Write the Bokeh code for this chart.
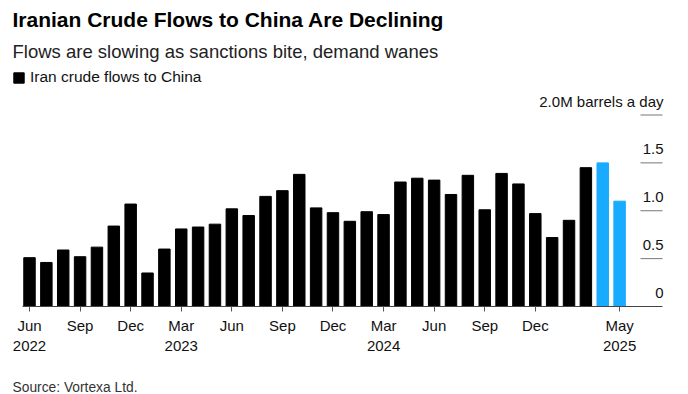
from bokeh.plotting import figure
from bokeh.models import Range1d, FixedTicker, Legend, LegendItem, ColumnDataSource, Title
from bokeh.core.properties import value
from bokeh.embed import file_html
from bokeh.resources import INLINE

# ---------------- data ----------------
months = [
    "Jun 2022", "Jul 2022", "Aug 2022", "Sep 2022", "Oct 2022", "Nov 2022", "Dec 2022",
    "Jan 2023", "Feb 2023", "Mar 2023", "Apr 2023", "May 2023", "Jun 2023",
    "Jul 2023", "Aug 2023", "Sep 2023", "Oct 2023", "Nov 2023", "Dec 2023",
    "Jan 2024", "Feb 2024", "Mar 2024", "Apr 2024", "May 2024", "Jun 2024",
    "Jul 2024", "Aug 2024", "Sep 2024", "Oct 2024", "Nov 2024", "Dec 2024",
    "Jan 2025", "Feb 2025", "Mar 2025", "Apr 2025", "May 2025",
]
flows = [
    0.51, 0.46, 0.59, 0.52, 0.62, 0.84, 1.07,
    0.35, 0.60, 0.81, 0.83, 0.86, 1.02,
    0.95, 1.15, 1.21, 1.38, 1.03, 0.98,
    0.89, 0.99, 0.96, 1.30, 1.34, 1.32,
    1.17, 1.37, 1.01, 1.39, 1.28, 0.97,
    0.72, 0.90, 1.45, 1.50, 1.10,
]
highlight = ["Apr 2025", "May 2025"]

tick_months = ["Jun 2022", "Sep 2022", "Dec 2022", "Mar 2023", "Jun 2023", "Sep 2023",
               "Dec 2023", "Mar 2024", "Jun 2024", "Sep 2024", "Dec 2024", "May 2025"]
tick_texts = ["Jun\n2022", "Sep", "Dec", "Mar\n2023", "Jun", "Sep",
              "Dec", "Mar\n2024", "Jun", "Sep", "Dec", "May\n2025"]

y_ticks = [0, 0.5, 1.0, 1.5, 2.0]
y_tick_texts = ["0", "0.5", "1.0", "1.5", "2.0M barrels a day"]

title_text = "Iranian Crude Flows to China Are Declining"
subtitle_text = "Flows are slowing as sanctions bite, demand wanes"
legend_text = "Iran crude flows to China"
source_text = "Source: Vortexa Ltd."

# ---------------- styling / geometry ----------------
FONT = "Liberation Sans"
BLACK = "#000000"
BLUE = "#18ABFF"
W, H = 688, 394
PITCH = 16.86          # px per month
BAR0 = 29              # x of first bar centre
FR_L, FR_R = 12, 665   # frame left / right
AX_L, AX_R = 22, 662   # axis line extent
GRID_L = 640           # short grid line start
FR_T, FR_B = 68, 307   # frame top / bottom
PX_PER_UNIT = 96.15

def xd(px):
    return (px - BAR0) / PITCH

def yd(py):
    return (FR_B - py) / PX_PER_UNIT

idx = list(range(len(months)))
colors = [BLUE if m in highlight else BLACK for m in months]
src = ColumnDataSource(dict(x=idx, flow=flows, color=colors, month=months))

p = figure(width=W, height=H, output_backend="svg", toolbar_location=None,
           title=None,
           x_range=Range1d(xd(FR_L), xd(FR_R)),
           y_range=Range1d(0, yd(FR_T)),
           y_axis_location=None,
           min_border_left=FR_L, min_border_right=W - FR_R,
           min_border_top=FR_T, min_border_bottom=H - FR_B)
p.outline_line_color = None
p.grid.visible = False
p.background_fill_color = "white"
p.border_fill_color = "white"

r = p.vbar(x="x", top="flow", width=0.68, color="color", source=src)

# short grid lines at the right
gy = [t for t in y_ticks if t > 0]
p.segment(x0=[xd(GRID_L)] * len(gy), x1=[xd(AX_R)] * len(gy), y0=gy, y1=gy,
          line_color="#777777", line_width=1)

# y labels above the grid lines
p.text(x=[xd(AX_R)] * len(y_ticks), y=y_ticks, text=y_tick_texts,
       text_align="right", text_baseline="alphabetic", y_offset=-14, x_offset=1,
       text_font=value(FONT), text_font_size="15px", text_color="#111111")

# x axis
ax = p.xaxis[0]
ax.ticker = FixedTicker(ticks=[months.index(m) for m in tick_months])
ax.major_label_overrides = {months.index(m): t for m, t in zip(tick_months, tick_texts)}
ax.bounds = (xd(AX_L), xd(AX_R))
ax.axis_line_color = "#444444"
ax.axis_line_width = 1
ax.major_tick_out = 5
ax.major_tick_in = 0
ax.major_tick_line_color = "#555555"
ax.minor_tick_line_color = None
ax.major_label_text_font = FONT
ax.major_label_text_font_size = "15px"
ax.major_label_text_color = "#111111"
ax.major_label_standoff = 5

# legend
legend = Legend(items=[LegendItem(label=legend_text, renderers=[r], index=0)],
                location="top_left", margin=0, padding=0, spacing=0,
                glyph_width=13, glyph_height=13, label_standoff=5, label_height=13,
                label_text_font=FONT, label_text_font_size="15.5px",
                label_text_color="#111111",
                border_line_color=None, background_fill_alpha=0)
p.add_layout(legend)

# header texts
p.add_layout(Title(text=subtitle_text, text_font=FONT, text_font_size="18.5px",
                   text_font_style="normal", text_color="#222222",
                   align="left", standoff=14), "above")
p.add_layout(Title(text=title_text, text_font=FONT, text_font_size="21px",
                   text_font_style="bold", text_color="#000000",
                   align="left", standoff=1), "above")
# footer: spacer below the axis, then the source note
p.add_layout(Title(text=" ", text_font_size="1px", standoff=18), "below")
p.add_layout(Title(text=source_text, text_font=FONT, text_font_size="13.8px",
                   text_font_style="normal", text_color="#333333",
                   align="left", standoff=0), "below")

open("out.html", "w").write(file_html(p, INLINE))
